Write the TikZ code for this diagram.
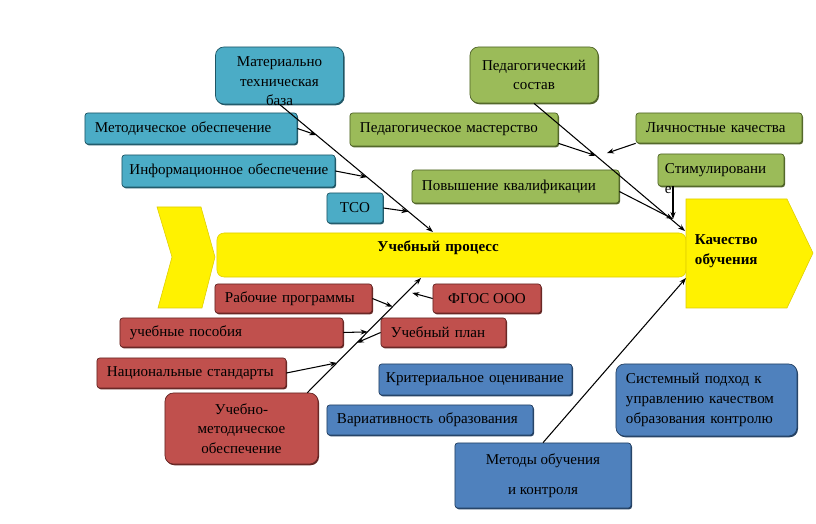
\documentclass[tikz,border=0pt]{standalone}
\usepackage{fontspec}
\setmainfont{Liberation Serif}
\usetikzlibrary{arrows.meta,shadows,calc}

\definecolor{tealfill}{RGB}{75,172,198}
\definecolor{tealdark}{RGB}{31,86,101}
\definecolor{greenfill}{RGB}{155,187,89}
\definecolor{greendark}{RGB}{79,98,40}
\definecolor{redfill}{RGB}{192,80,77}
\definecolor{reddark}{RGB}{99,37,35}
\definecolor{bluefill}{RGB}{79,129,189}
\definecolor{bluedark}{RGB}{36,64,98}
\definecolor{yellowdark}{RGB}{222,205,0}

\begin{document}
\begin{tikzpicture}[x=0.025cm,y=-0.025cm,
  every node/.style={font=\fontsize{10.7}{14}\selectfont},
  >={Stealth[length=5pt,width=3.6pt]},
  link/.style={->,line width=0.75pt},
  plate/.style={rounded corners=2pt,line width=0.5pt,inner xsep=0.25cm,align=left},
  tealbox/.style={plate,fill=tealfill,draw=tealdark,drop shadow={shadow xshift=0.7pt,shadow yshift=-0.9pt,fill=tealdark,opacity=1}},
  greenbox/.style={plate,fill=greenfill,draw=greendark,drop shadow={shadow xshift=0.7pt,shadow yshift=-0.9pt,fill=greendark,opacity=1}},
  redbox/.style={plate,fill=redfill,draw=reddark,drop shadow={shadow xshift=0.7pt,shadow yshift=-0.9pt,fill=reddark,opacity=1}},
  bluebox/.style={plate,fill=bluefill,draw=bluedark,drop shadow={shadow xshift=0.7pt,shadow yshift=-0.9pt,fill=bluedark,opacity=1}},
  yellowpart/.style={fill=yellow,draw=yellowdark,line width=0.4pt}]
  \useasboundingbox (0,0) rectangle (816,524);

  % spine of the process
  \filldraw[yellowpart] (157,207) -- (201,207) -- (215,257) -- (202,308) -- (158,308) -- (172,257) -- cycle;
  \node[yellowpart,rounded corners=5pt,minimum width=11.725cm,minimum height=1.1cm,font=\fontsize{10.7}{14}\selectfont\bfseries,align=left,text width=3.7cm,inner xsep=4.0125cm,text depth=12.3pt] (bar) at (451.5,255) {Учебный процесс};
  \filldraw[yellowpart] (686,199) -- (787,199) -- (813,253) -- (787,308) -- (686,308) -- cycle;
  \node[font=\fontsize{10.7}{14}\selectfont\bfseries,align=left,text width=2.075cm,inner sep=0pt] (kach) at (736.5,251.5) {Качество\\обучения};

  % upper branches
  \node[tealbox,rounded corners=6pt,align=center,text width=2.7cm,minimum width=3.175cm,minimum height=1.425cm,text height=8pt,text depth=20.9pt] (mat) at (279.5,75.5) {Материально\\техническая\\база};
  \node[tealbox,text width=4.8cm,minimum height=0.775cm] (metod) at (191,128.5) {Методическое обеспечение};
  \node[tealbox,inner xsep=0.1875cm,text width=4.95cm,minimum height=0.8cm] (inform) at (228.5,171) {\mbox{Информационное обеспечение}};
  \node[tealbox,align=center,minimum width=1.4cm,minimum height=0.75cm] (tso) at (355,208) {ТСО};

  \node[greenbox,rounded corners=6pt,align=center,minimum width=3.2cm,minimum height=1.4cm] (pedsost) at (534,75) {Педагогический\\состав};
  \node[greenbox,text width=4.7cm,minimum height=0.825cm] (pedmast) at (454,129.5) {Педагогическое мастерство};
  \node[greenbox,text width=4.675cm,minimum height=0.825cm] (povysh) at (515.5,186.5) {Повышение квалификации};
  \node[greenbox,text width=3.65cm,minimum height=0.75cm] (lichn) at (719,128) {Личностные качества};
  \node[greenbox,inner xsep=0.175cm,text width=2.8cm,minimum height=0.8cm,text height=7.5pt,text depth=2.7pt] (stim) at (721,170) {Стимулировани\\е};

  % lower branches
  \node[redbox,text width=3.425cm,minimum height=0.725cm] (rab) at (293.5,298.5) {Рабочие программы};
  \node[redbox,align=center,minimum width=2.7cm,minimum height=0.725cm] (fgos) at (487,298.5) {ФГОС ООО};
  \node[redbox,text width=5.075cm,minimum height=0.725cm] (posob) at (231.5,332.5) {учебные пособия};
  \node[redbox,text width=2.625cm,minimum height=0.725cm] (uchplan) at (443.5,332.5) {Учебный план};
  \node[redbox,text width=4.225cm,minimum height=0.75cm] (nac) at (191.5,373) {Национальные стандарты};
  \node[redbox,rounded corners=6pt,align=center,minimum width=3.825cm,minimum height=1.775cm] (umo) at (241.5,428.5) {Учебно-\\методическое\\обеспечение};

  \node[bluebox,inner xsep=0.175cm,text width=4.475cm,minimum height=0.775cm] (krit) at (475.5,379.5) {Критериальное оценивание};
  \node[bluebox,text width=4.65cm,minimum height=0.75cm] (variat) at (430,420) {Вариативность образования};
  \node[bluebox,align=center,minimum width=4.4cm,minimum height=1.625cm] (metody) at (543,475.5) {Методы обучения\\[7pt]и контроля};
  \node[bluebox,rounded corners=6pt,text width=4.025cm,minimum height=1.8cm] (sist) at (706.5,400) {Системный подход к\\управлению качеством\\образования контролю};

  % arrow ends
  \coordinate (s1) at (433,232);
  \coordinate (s3) at (421,278);
  \coordinate (q1) at (673,219);
  \coordinate (q2) at (685,231);
  \coordinate (q3) at (686,278);

  \draw[link] (mat.south) -- (s1);
  \draw[link] (metod.east) -- ($(mat.south)!0.24!(s1)$);
  \draw[link] (inform.east) -- ($(mat.south)!0.57!(s1)$);
  \draw[link] (tso.east) -- ($(mat.south)!0.84!(s1)$);

  \draw[link] (pedsost.south) -- (q2);
  \draw[link] ([yshift=0.075cm]pedmast.south east) -- ($(pedsost.south)!0.41!(q2)$);
  \draw[link] (lichn.south west) -- ($(pedsost.south)!0.39!(q2)+(14,0)$);
  \draw[link] ([yshift=-0.125cm]povysh.east) -- (q1);
  \draw[link] (q1 |- stim.south) -- (q1);

  \draw[link] ([xshift=-0.275cm]umo.north east) -- (s3);
  \draw[link] (rab.east) -- ($([xshift=-0.275cm]umo.north east)!0.75!(s3)$);
  \draw[link] (fgos.west) -- ($([xshift=-0.275cm]umo.north east)!0.87!(s3)+(6,0)$);
  \draw[link] (posob.east) -- ($([xshift=-0.275cm]umo.north east)!0.53!(s3)$);
  \draw[link] (uchplan.west) -- ($([xshift=-0.275cm]umo.north east)!0.435!(s3)$);
  \draw[link] (nac.east) -- ($([xshift=-0.275cm]umo.north east)!0.26!(s3)$);

  \draw[link] (metody.north) -- (q3);
\end{tikzpicture}
\end{document}
